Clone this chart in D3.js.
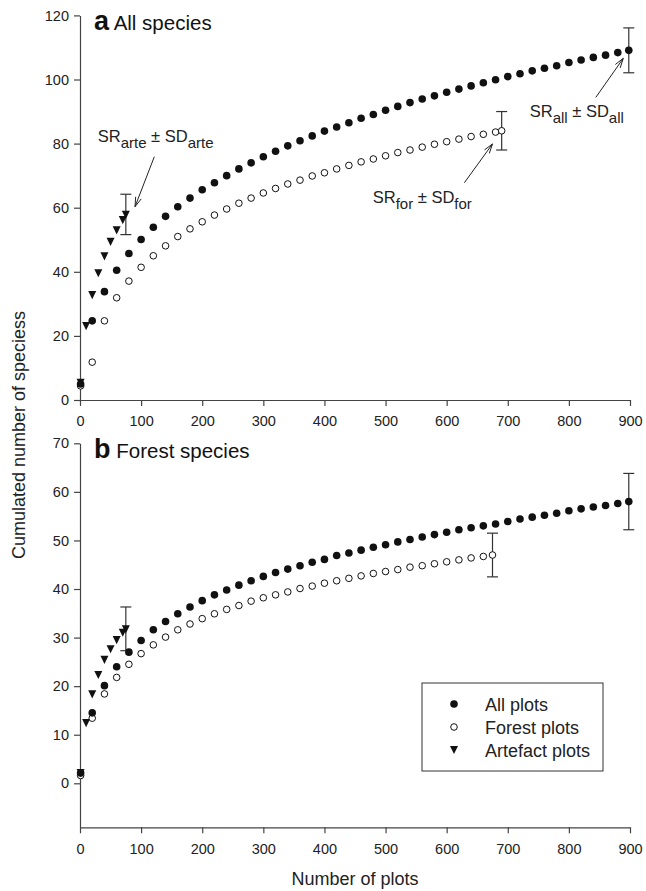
<!DOCTYPE html>
<html>
<head>
<meta charset="utf-8">
<script src="https://cdn.jsdelivr.net/npm/d3@7"></script>
<style>
    body { margin: 0; background: #fff; }
    svg { font-family: "Liberation Sans", Arial, sans-serif; }
    .axis path, .axis line { stroke: #444; stroke-width: 1.2; }
    .axis text { font-size: 14.5px; fill: #222; }
</style>
</head>
<body>
<div class="chart"></div>
<script>
// x positions (number of plots)
var xAll = [1, 20, 40, 60, 80, 100, 120, 140, 160, 180, 200, 220, 240, 260, 280, 300, 320, 340, 360, 380,
    400, 420, 440, 460, 480, 500, 520, 540, 560, 580, 600, 620, 640, 660, 680, 700, 720, 740, 760, 780,
    800, 820, 840, 860, 880, 898];
var xForest = [1, 20, 40, 60, 80, 100, 120, 140, 160, 180, 200, 220, 240, 260, 280, 300, 320, 340, 360, 380,
    400, 420, 440, 460, 480, 500, 520, 540, 560, 580, 600, 620, 640, 660, 680, 690];
var xForestB = [1, 20, 40, 60, 80, 100, 120, 140, 160, 180, 200, 220, 240, 260, 280, 300, 320, 340, 360, 380,
    400, 420, 440, 460, 480, 500, 520, 540, 560, 580, 600, 620, 640, 660, 675];
var xArte = [1, 10, 20, 30, 40, 50, 60, 70, 75];

// panel a: all species
var aAll = [5.0, 24.7, 33.8, 40.5, 45.7, 50.1, 53.9, 57.3, 60.3, 63.0, 65.6, 67.8, 70.0, 72.1, 74.0, 75.9,
    77.6, 79.3, 80.9, 82.4, 83.9, 85.2, 86.5, 87.9, 89.1, 90.4, 91.6, 92.8, 93.9, 94.9, 96.0, 97.0, 98.0,
    99.0, 99.9, 100.9, 101.8, 102.7, 103.5, 104.3, 105.3, 106.1, 106.9, 107.6, 108.4, 109.1];
var aForest = [4.4, 11.8, 24.7, 31.9, 37.1, 41.4, 45.0, 48.1, 51.0, 53.4, 55.6, 57.7, 59.6, 61.4, 63.0,
    64.6, 66.0, 67.4, 68.6, 69.9, 70.9, 72.1, 73.2, 74.3, 75.2, 76.2, 77.2, 78.0, 78.9, 79.8, 80.6, 81.4,
    82.2, 82.9, 83.6, 84.0];
var aArte = [5.5, 23.2, 32.9, 39.7, 45.0, 49.5, 53.1, 56.3, 57.9];

// panel b: forest species
var bAll = [2.1, 14.5, 20.1, 24.0, 27.0, 29.4, 31.6, 33.3, 34.9, 36.3, 37.6, 38.8, 39.8, 40.8, 41.7, 42.6,
    43.4, 44.1, 44.8, 45.5, 46.1, 46.9, 47.4, 48.0, 48.6, 49.1, 49.7, 50.2, 50.7, 51.2, 51.7, 52.2, 52.6,
    53.0, 53.4, 53.9, 54.4, 54.8, 55.2, 55.6, 56.1, 56.5, 56.9, 57.2, 57.6, 58.0];
var bForest = [1.6, 13.4, 18.4, 21.8, 24.5, 26.7, 28.5, 30.1, 31.6, 32.8, 33.9, 34.9, 35.8, 36.6, 37.5,
    38.2, 38.8, 39.4, 40.1, 40.6, 41.2, 41.7, 42.2, 42.7, 43.2, 43.6, 44.0, 44.5, 44.8, 45.2, 45.6, 46.0,
    46.4, 46.7, 47.0];
var bArte = [2.2, 12.5, 18.4, 22.4, 25.5, 27.7, 29.6, 31.1, 31.8];

// error bars at the last point of each curve: [x, mean, sd]
var aErrors = [[898, 109.1, 7.0], [690, 84.0, 6.0], [75, 57.9, 6.3]];
var bErrors = [[898, 58.0, 5.8], [675, 47.0, 4.5], [75, 31.8, 4.5]];

var xTicks = [0, 100, 200, 300, 400, 500, 600, 700, 800, 900];
var aTicks = [0, 20, 40, 60, 80, 100, 120];
var bTicks = [0, 10, 20, 30, 40, 50, 60, 70];

var legendLabels = ["All plots", "Forest plots", "Artefact plots"];

var svg = d3.select(".chart").append("svg")
    .attr("width", 646)
    .attr("height", 891);

var x = d3.scaleLinear().domain([0, 900]).range([80, 630]);
var yA = d3.scaleLinear().domain([0, 120]).range([400, 15.4]);
var yB = d3.scaleLinear().domain([-9.06, 70]).range([827.3, 443.3]);

function zip(xs, ys) {
    return xs.map(function (d, i) { return [d, ys[i]]; });
}

function triangle(cx, cy) {
    var w = 4, h = 3.6;
    return "M" + (cx - w) + "," + (cy - h) + "L" + (cx + w) + "," + (cy - h) + "L" + cx + "," + (cy + h + 1) + "Z";
}

function arrow(g, x1, y1, x2, y2) {
    var ang = Math.atan2(y2 - y1, x2 - x1), len = 10, spread = 0.3;
    g.append("line")
        .attr("x1", x1).attr("y1", y1).attr("x2", x2).attr("y2", y2)
        .attr("stroke", "#222").attr("stroke-width", 1);
    [-spread, spread].forEach(function (s) {
        g.append("line")
            .attr("x1", x2).attr("y1", y2)
            .attr("x2", x2 - len * Math.cos(ang + s))
            .attr("y2", y2 - len * Math.sin(ang + s))
            .attr("stroke", "#222").attr("stroke-width", 1);
    });
}

function srLabel(g, px, py, sub) {
    var t = g.append("text")
        .attr("x", px).attr("y", py)
        .attr("font-size", "16.5px")
        .attr("fill", "#222");
    t.append("tspan").text("SR");
    t.append("tspan").attr("dy", 6).attr("font-size", "15px").text(sub);
    t.append("tspan").attr("dy", -6).text(" \u00b1 SD");
    t.append("tspan").attr("dy", 6).attr("font-size", "15px").text(sub);
}

function panel(y, ticks, all, forest, xF, arte, errors, letter, title) {
    var g = svg.append("g");

    g.append("g")
        .attr("class", "axis")
        .attr("transform", "translate(0," + y.range()[0] + ")")
        .call(d3.axisBottom(x).tickValues(xTicks).tickSize(6).tickPadding(10).tickSizeOuter(0));

    g.append("g")
        .attr("class", "axis")
        .attr("transform", "translate(80,0)")
        .call(d3.axisLeft(y).tickValues(ticks).tickSize(6).tickPadding(5).tickSizeOuter(0));

    // error bars
    errors.forEach(function (e) {
        var ex = x(e[0]);
        g.append("line")
            .attr("x1", ex).attr("x2", ex)
            .attr("y1", y(e[1] - e[2])).attr("y2", y(e[1] + e[2]))
            .attr("stroke", "#333").attr("stroke-width", 1.2);
        [e[1] - e[2], e[1] + e[2]].forEach(function (v) {
            g.append("line")
                .attr("x1", ex - 5.5).attr("x2", ex + 5.5)
                .attr("y1", y(v)).attr("y2", y(v))
                .attr("stroke", "#333").attr("stroke-width", 1.2);
        });
    });

    g.selectAll(".tri")
        .data(zip(xArte, arte))
        .enter().append("path")
        .attr("d", function (d) { return triangle(x(d[0]), y(d[1])); })
        .attr("fill", "#111");

    g.selectAll(".open")
        .data(zip(xF, forest))
        .enter().append("circle")
        .attr("r", 3.3)
        .attr("cx", function (d) { return x(d[0]); })
        .attr("cy", function (d) { return y(d[1]); })
        .attr("fill", "#fff")
        .attr("stroke", "#111")
        .attr("stroke-width", 1);

    g.selectAll(".full")
        .data(zip(xAll, all))
        .enter().append("circle")
        .attr("r", 3.8)
        .attr("cx", function (d) { return x(d[0]); })
        .attr("cy", function (d) { return y(d[1]); })
        .attr("fill", "#111");

    var t = g.append("text")
        .attr("x", x(23))
        .attr("y", y(ticks[ticks.length - 1]) + 15)
        .attr("fill", "#111");
    t.append("tspan").attr("font-size", "27px").attr("font-weight", "bold").text(letter);
    t.append("tspan").attr("font-size", "20.5px").text(" " + title);

    return g;
}

var gA = panel(yA, aTicks, aAll, aForest, xForest, aArte, aErrors, "a", "All species");
var gB = panel(yB, bTicks, bAll, bForest, xForestB, bArte, bErrors, "b", "Forest species");

// annotations on panel a
srLabel(gA, x(29), yA(80.5), "arte");
arrow(gA, x(121.6), yA(75.9), x(90), yA(60.3));
srLabel(gA, x(736), yA(88.4), "all");
arrow(gA, x(844), yA(94.4), x(889), yA(106.6));
srLabel(gA, x(479), yA(61.5), "for");
arrow(gA, x(629), yA(67.8), x(675), yA(79.9));

// legend
var lg = svg.append("g").attr("transform", "translate(422,683)");
lg.append("rect")
    .attr("width", 181).attr("height", 88)
    .attr("fill", "#fff").attr("stroke", "#333").attr("stroke-width", 1);
legendLabels.forEach(function (label, i) {
    var cy = 21 + i * 23;
    if (i === 0) {
        lg.append("circle").attr("cx", 32).attr("cy", cy).attr("r", 3.8).attr("fill", "#111");
    } else if (i === 1) {
        lg.append("circle").attr("cx", 32).attr("cy", cy).attr("r", 3.3)
            .attr("fill", "#fff").attr("stroke", "#111").attr("stroke-width", 1);
    } else {
        lg.append("path").attr("d", triangle(32, cy - 0.5)).attr("fill", "#111");
    }
    lg.append("text")
        .attr("x", 63).attr("y", cy + 6.5)
        .attr("font-size", "18px").attr("fill", "#222")
        .text(label);
});

// axis titles
svg.append("text")
    .attr("transform", "translate(25,435) rotate(-90)")
    .attr("text-anchor", "middle")
    .attr("font-size", "18px").attr("fill", "#222")
    .text("Cumulated number of speciess");

svg.append("text")
    .attr("x", 355).attr("y", 885)
    .attr("text-anchor", "middle")
    .attr("font-size", "18px").attr("fill", "#222")
    .text("Number of plots");
</script>
</body>
</html>
